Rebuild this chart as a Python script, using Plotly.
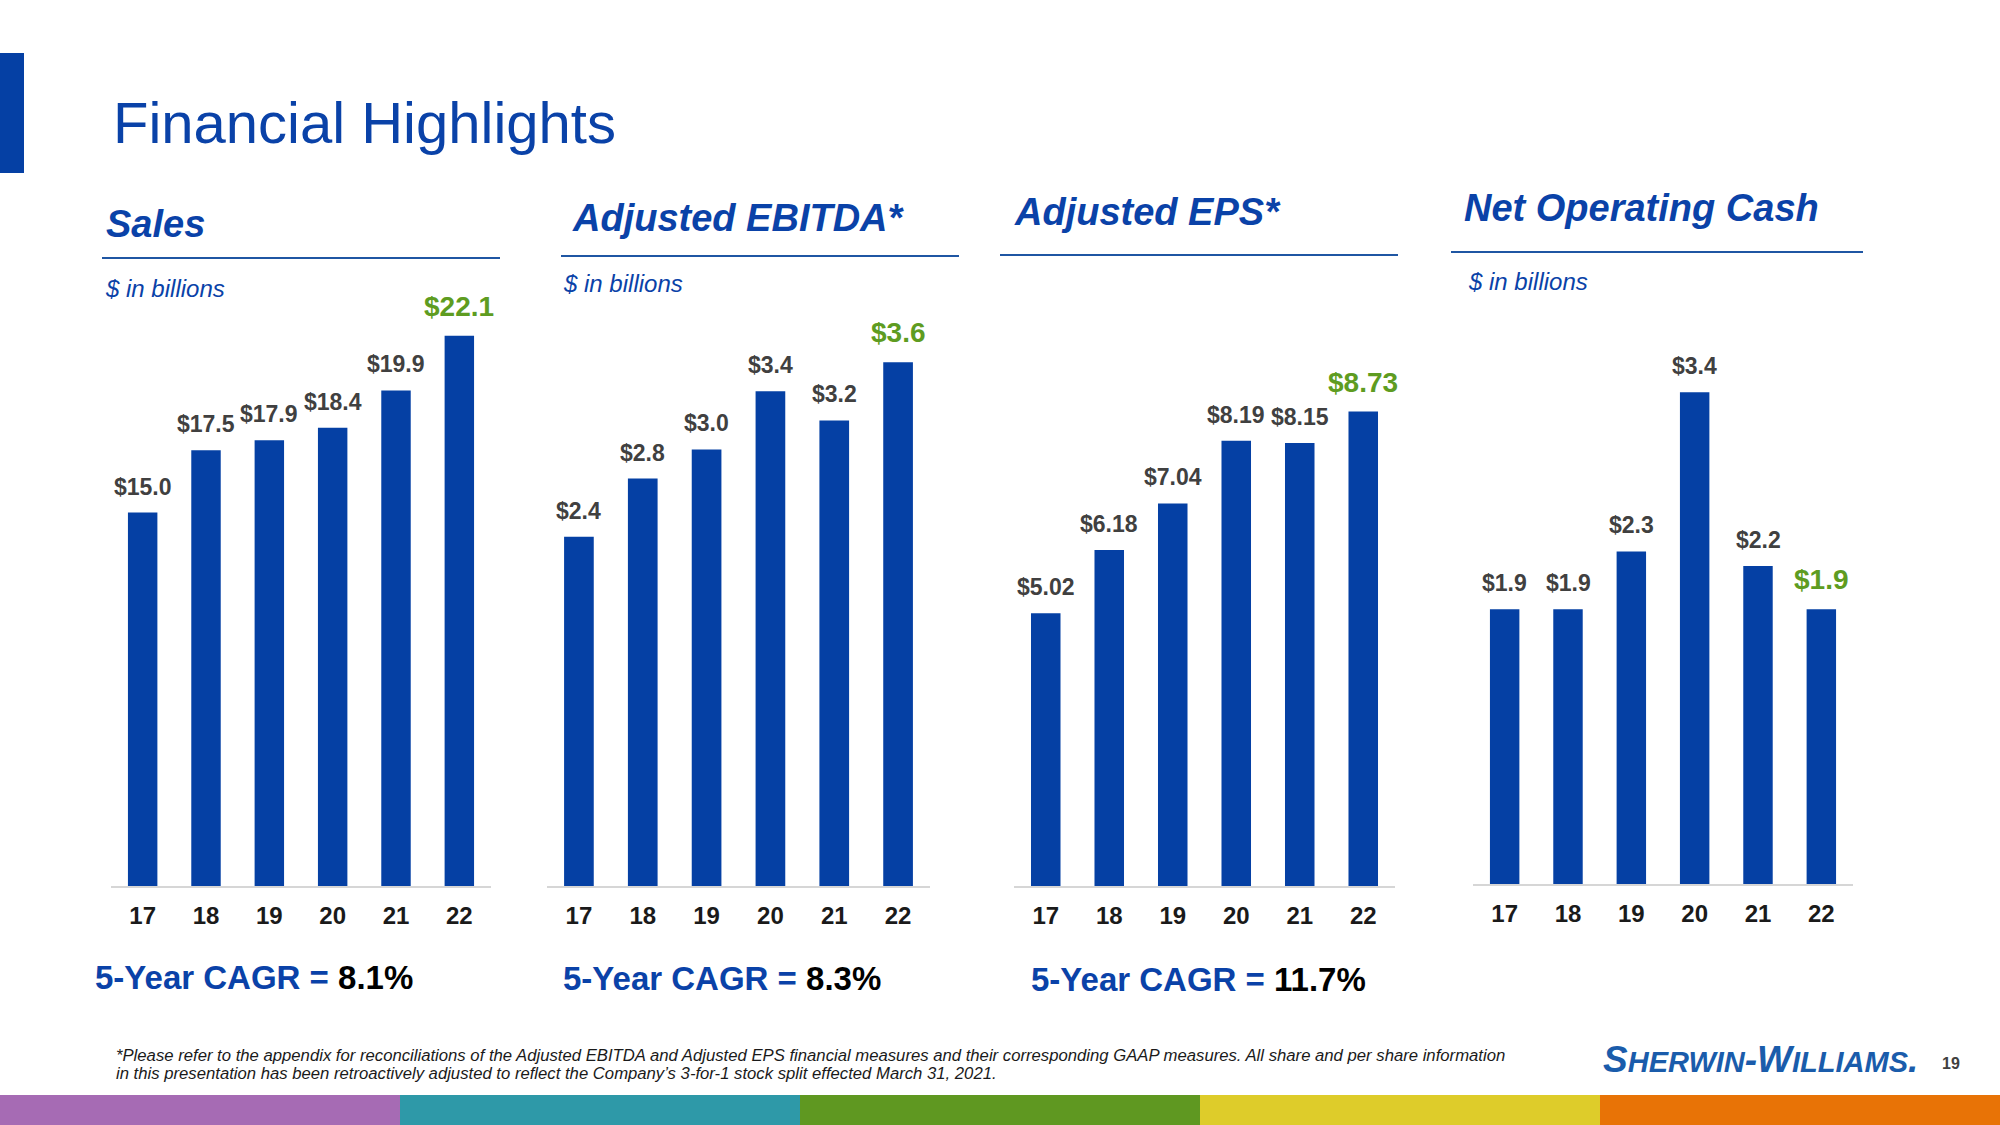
import plotly.graph_objects as go

# ---------------- data ----------------
years = ["17", "18", "19", "20", "21", "22"]
sales = [15.0, 17.5, 17.9, 18.4, 19.9, 22.1]
ebitda = [2.4, 2.8, 3.0, 3.4, 3.2, 3.6]
eps = [5.02, 6.18, 7.04, 8.19, 8.15, 8.73]
net_cash = [1.9, 1.9, 2.3, 3.4, 2.2, 1.9]

panel_titles = ["Sales", "Adjusted EBITDA*", "Adjusted EPS*", "Net Operating Cash"]
panel_units = ["$ in billions", "$ in billions", "", "$ in billions"]
label_formats = ["{:.1f}", "{:.1f}", "{:.2f}", "{:.1f}"]
cagr_values = ["8.1%", "8.3%", "11.7%"]

title_text = "Financial Highlights"
footnote_lines = [
    "*Please refer to the appendix for reconciliations of the Adjusted EBITDA and Adjusted EPS financial measures and their corresponding GAAP measures. All share and per share information",
    "in this presentation has been retroactively adjusted to reflect the Company\u2019s 3-for-1 stock split effected March 31, 2021.",
]
page_number = "19"

# ---------------- styling ----------------
W, H = 2000, 1125
FONT = "Liberation Sans, Arial, sans-serif"
BAR = "#0540A4"
BLUE = "#0A42A8"
GREEN = "#5E9C21"
GRAY = "#404040"


def px(y):
    return 1 - y / H


def fx(x):
    return x / W


series = [sales, ebitda, eps, net_cash]
panels = [
    dict(x0=111, x1=491, base=886, ppu=24.9, hx=104, hy=224, ux=103, uy=288, line=(102, 500, 258), cx=93, cy=977),
    dict(x0=547, x1=930, base=886, ppu=145.5, hx=570, hy=218, ux=561, uy=283, line=(561, 959, 256), cx=561, cy=978),
    dict(x0=1014, x1=1395, base=886, ppu=54.35, hx=1012, hy=212, ux=1013, uy=281, line=(1000, 1398, 255), cx=1029, cy=980),
    dict(x0=1473, x1=1853, base=884, ppu=144.6, hx=1462, hy=208, ux=1466, uy=281, line=(1451, 1863, 252), cx=None, cy=None),
]
TOP = 300

fig = go.Figure()
annotations = []
shapes = []

for i, (vals, p) in enumerate(zip(series, panels)):
    n = i + 1
    xa = "x" if n == 1 else f"x{n}"
    ya = "y" if n == 1 else f"y{n}"
    fig.add_trace(go.Bar(
        x=years, y=vals, xaxis=xa, yaxis=ya,
        marker=dict(color=BAR, line=dict(width=0)),
        width=0.465, hoverinfo="skip", showlegend=False,
    ))
    ymax = (p["base"] - TOP) / p["ppu"]
    xkey = "xaxis" if n == 1 else f"xaxis{n}"
    ykey = "yaxis" if n == 1 else f"yaxis{n}"
    fig.update_layout(**{
        xkey: dict(
            domain=[fx(p["x0"]), fx(p["x1"])], anchor=ya,
            type="category", range=[-0.5, 5.5],
            showline=True, linecolor="#D6D6D6", linewidth=2,
            showgrid=False, zeroline=False, ticks="",
            tickfont=dict(family=FONT, size=24, color="#1A1A1A", weight="bold"),
            ticklabelstandoff=7, fixedrange=True,
        ),
        ykey: dict(
            domain=[px(p["base"]), px(TOP)], anchor=xa,
            range=[0, ymax], visible=False, showgrid=False,
            zeroline=False, fixedrange=True,
        ),
    })
    # value labels (x given as category index on the category axis)
    for j, v in enumerate(vals):
        last = j == len(vals) - 1
        annotations.append(dict(
            x=j, y=v, xref=xa, yref=ya, showarrow=False,
            text="<b>$" + label_formats[i].format(v) + "</b>",
            yanchor="bottom", xanchor="center",
            yshift=12 if last else 11,
            font=dict(family=FONT, size=28 if last else 23,
                      color=GREEN if last else GRAY),
        ))
    annotations.append(dict(
        x=fx(p["hx"]), y=px(p["hy"]), xref="paper", yref="paper",
        xanchor="left", yanchor="middle", showarrow=False,
        text="<b><i>" + panel_titles[i] + "</i></b>",
        font=dict(family=FONT, size=38, color=BLUE),
    ))
    lx0, lx1, ly = p["line"]
    shapes.append(dict(type="line", xref="paper", yref="paper",
                       x0=fx(lx0), x1=fx(lx1), y0=px(ly), y1=px(ly),
                       line=dict(color="#1F56A3", width=2)))
    if panel_units[i]:
        annotations.append(dict(
            x=fx(p["ux"]), y=px(p["uy"]), xref="paper", yref="paper",
            xanchor="left", yanchor="middle", showarrow=False,
            text="<i>" + panel_units[i] + "</i>",
            font=dict(family=FONT, size=24, color=BLUE),
        ))
    if i < len(cagr_values):
        annotations.append(dict(
            x=fx(p["cx"]), y=px(p["cy"]), xref="paper", yref="paper",
            xanchor="left", yanchor="middle", showarrow=False,
            text="<b><span style='color:" + BLUE + "'>5-Year CAGR = </span>" + cagr_values[i] + "</b>",
            font=dict(family=FONT, size=33, color="#000000"),
        ))

annotations.append(dict(
    x=fx(111), y=px(122), xref="paper", yref="paper", xanchor="left", yanchor="middle",
    showarrow=False, text=title_text, font=dict(family=FONT, size=58, color=BLUE),
))
for k, line in enumerate(footnote_lines):
    annotations.append(dict(
        x=fx(114), y=px(1055 + 18 * k), xref="paper", yref="paper", xanchor="left", yanchor="middle",
        showarrow=False, text="<i>" + line + "</i>",
        font=dict(family=FONT, size=16.7, color="#1A1A1A"),
    ))
annotations.append(dict(
    x=fx(1601), y=px(1059), xref="paper", yref="paper", xanchor="left", yanchor="middle",
    showarrow=False,
    text="<b><i>S<span style='font-size:29px'>HERWIN</span>-W<span style='font-size:29px'>ILLIAMS</span>.</i></b>",
    font=dict(family=FONT, size=37, color="#1A5CAB"),
))
annotations.append(dict(
    x=fx(1951), y=px(1063), xref="paper", yref="paper", xanchor="center", yanchor="middle",
    showarrow=False, text="<b>" + page_number + "</b>",
    font=dict(family=FONT, size=16, color=GRAY),
))

shapes.append(dict(type="rect", xref="paper", yref="paper", x0=0, x1=fx(24),
                   y0=px(173), y1=px(53), fillcolor=BAR, line=dict(width=0), layer="below"))
band_colors = ["#A66BB4", "#2E99A8", "#5F9821", "#DECC2A", "#E87306"]
for k, c in enumerate(band_colors):
    shapes.append(dict(type="rect", xref="paper", yref="paper",
                       x0=k / 5, x1=(k + 1) / 5, y0=0, y1=px(1095),
                       fillcolor=c, line=dict(width=0), layer="below"))

fig.update_layout(
    width=W, height=H, margin=dict(l=0, r=0, t=0, b=0),
    paper_bgcolor="white", plot_bgcolor="white",
    showlegend=False, annotations=annotations, shapes=shapes,
    font=dict(family=FONT),
)

fig.write_html(
    "out.html",
    config={"displayModeBar": False},
    post_script="document.body.style.margin='0';document.body.style.overflow='hidden';",
)
